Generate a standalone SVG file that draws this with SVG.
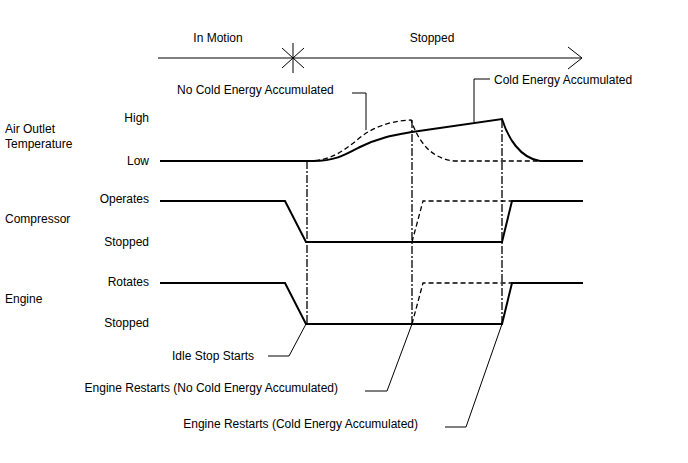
<svg xmlns="http://www.w3.org/2000/svg" width="688" height="463" viewBox="0 0 688 463">
<style>
text{font-family:"Liberation Sans",Arial,sans-serif;font-size:12px;fill:#000}
.r{text-anchor:end}
.m{text-anchor:middle}
.s{fill:none;stroke:#000;stroke-width:2}
.t{fill:none;stroke:#000;stroke-width:1}
.d{fill:none;stroke:#000;stroke-width:1.3;stroke-dasharray:5 3}
.dd{fill:none;stroke:#000;stroke-width:1.3;stroke-dasharray:8 2 2 2}
</style>
<rect width="688" height="463" fill="#fff"/>
<g id="timeline">
<path class="t" d="M158,58 H582 M568,47 L582,58 L568,69"/>
<path class="t" d="M293,43 V73 M282,48 L304,68 M282,68 L304,48"/>
<text class="m" x="218" y="42">In Motion</text>
<text class="m" x="432" y="42">Stopped</text>
</g>
<g id="labels">
<text x="5" y="133">Air Outlet</text>
<text x="5" y="148">Temperature</text>
<text x="5" y="223">Compressor</text>
<text x="5" y="303">Engine</text>
<text class="r" x="149" y="122">High</text>
<text class="r" x="149" y="165">Low</text>
<text class="r" x="149" y="203">Operates</text>
<text class="r" x="149" y="246">Stopped</text>
<text class="r" x="149" y="286">Rotates</text>
<text class="r" x="149" y="327">Stopped</text>
</g>
<g id="air-temp">
<path class="s" d="M160,161 H313 C335,161 345,155 360,147 C380,137 395,135 412,132 L502,119 C508,138 520,158 540,161 H583"/>
<path class="d" d="M307,161 C330,161 342,152 357,140 C372,127 390,121 411,120 C418,140 430,159 455,161 H540"/>
</g>
<g id="compressor">
<path class="s" d="M160,201 H285 L306,242 H502 L512,201 H583"/>
<path class="d" d="M412,242 L423,201 H512"/>
</g>
<g id="engine">
<path class="s" d="M160,283 H285 L306,324 H502 L512,283 H583"/>
<path class="d" d="M412,324 L423,283 H512"/>
</g>
<g id="connectors">
<path class="dd" d="M307,161 V324"/>
<path class="dd" d="M412,120 V324"/>
<path class="dd" d="M502,120 V324"/>
<path class="t" d="M352,93 H366 V130"/>
<path class="t" d="M490,79 H474 V122"/>
<path class="t" d="M268,356 H289 L306,324"/>
<path class="t" d="M365,391 H387 L412,324"/>
<path class="t" d="M445,427 H466 L502,324"/>
</g>
<g id="annotations">
<text x="177" y="94">No Cold Energy Accumulated</text>
<text x="494" y="84">Cold Energy Accumulated</text>
<text class="r" x="254" y="360">Idle Stop Starts</text>
<text class="r" x="338" y="392">Engine Restarts (No Cold Energy Accumulated)</text>
<text class="r" x="418" y="428">Engine Restarts (Cold Energy Accumulated)</text>
</g>
</svg>
